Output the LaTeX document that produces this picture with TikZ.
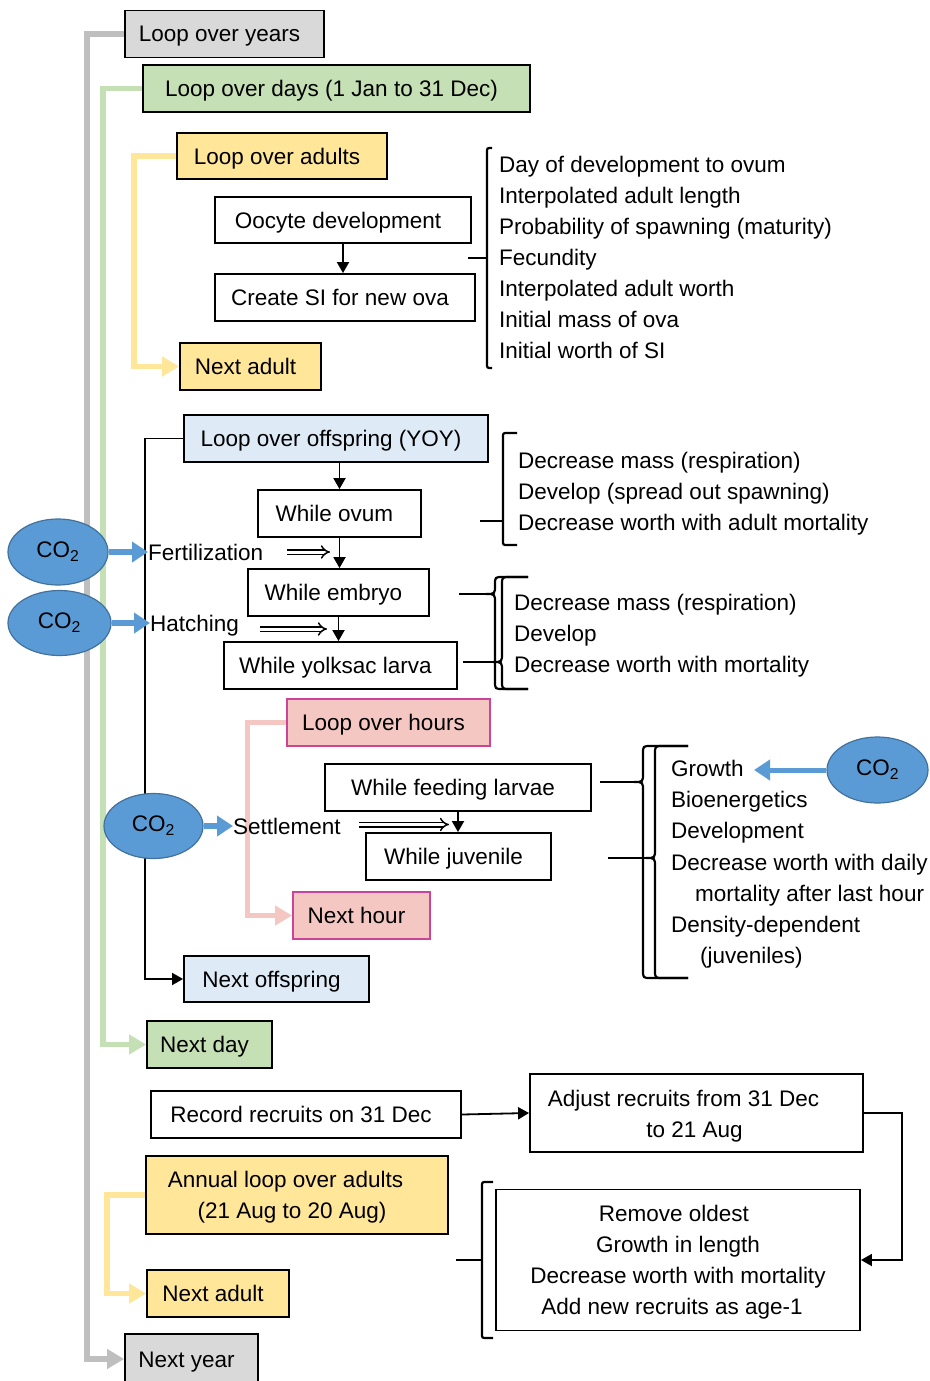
\documentclass[tikz,border=0pt]{standalone}
\usepackage{fontspec}
\setmainfont{Liberation Sans}
\usetikzlibrary{arrows.meta,shapes.geometric}
\definecolor{gfill}{HTML}{D9D9D9}
\definecolor{gline}{HTML}{BFBFBF}
\definecolor{grn}{HTML}{C5E0B4}
\definecolor{yel}{HTML}{FFE699}
\definecolor{lblue}{HTML}{DEEBF7}
\definecolor{pinkf}{HTML}{F4C7C3}
\definecolor{pinkb}{HTML}{CC4499}
\definecolor{co2f}{HTML}{5B9BD5}
\definecolor{co2b}{HTML}{41719C}
\newcommand\fishbrace[5]{\draw[bracepath] (#5,#2) -- ({#1+8},#2) .. controls (#1,#2) .. (#1,{#2+8}) -- (#1,{#4-9}) .. controls (#1,#4) .. ({#1-9},#4) .. controls (#1,#4) .. (#1,{#4+9}) -- (#1,{#3-8}) .. controls (#1,#3) .. ({#1+8},#3) -- (#5,#3);}
\begin{document}
\begin{tikzpicture}[x=1pt,y=-1pt,
  every node/.style={font=\fontsize{22.5}{31}\selectfont},
  box/.style={draw=black, line width=1.8pt, inner sep=0pt, text height=16pt, text depth=0pt, execute at end node={\hspace*{10pt}}},
  mbox/.style={draw=black, line width=1.8pt, inner sep=0pt, align=center},
  lbl/.style={inner sep=0pt, text height=16pt, text depth=0pt, anchor=west},
  loopline/.style={line width=5.5pt, -{Triangle[width=19pt,length=17pt]}},
  thinarrow/.style={line width=1.8pt, -{Triangle[width=12pt,length=11pt]}},
  bluearrow/.style={co2f, line width=6pt, -{Triangle[width=20pt,length=16pt]}},
  co2/.style={ellipse, draw=co2b, fill=co2f, line width=1.2pt, inner sep=0pt},
  dbl/.style={double=white, double distance=3pt, line width=1.5pt, -{Implies}},
  bracepath/.style={line width=2.2pt},
  sq/.style={line width=2.2pt, rounded corners=2pt},
  stub/.style={line width=2.2pt}
]
\fill[white] (0,0) rectangle (929,1381);
\useasboundingbox (0,0) rectangle (929,1381);

% boxes
\node[box, fill=gfill, minimum width=199pt, minimum height=47pt] (years) at (224.5,34) {Loop over years};
\node[box, fill=grn, minimum width=387pt, minimum height=47pt] (days) at (336.5,88.5) {Loop over days (1 Jan to 31 Dec)};
\node[box, fill=yel, minimum width=210pt, minimum height=46pt] (adults) at (282,156) {Loop over adults};
\node[box, minimum width=256pt, minimum height=46pt] (oocyte) at (343,220) {Oocyte development};
\node[box, minimum width=260pt, minimum height=47pt] (createsi) at (345,297.5) {Create SI for new ova};
\node[box, fill=yel, minimum width=141pt, minimum height=47pt] (nextadult) at (250.5,366.5) {Next adult};
\node[box, fill=lblue, minimum width=304pt, minimum height=47pt] (offspring) at (336,438.5) {Loop over offspring (YOY)};
\node[box, minimum width=163pt, minimum height=47pt] (ovum) at (339.5,513.5) {While ovum};
\node[box, minimum width=181pt, minimum height=47pt] (embryo) at (338.5,592.5) {While embryo};
\node[box, minimum width=233pt, minimum height=47pt] (yolk) at (340.5,665.5) {While yolksac larva};
\node[box, draw=pinkb, fill=pinkf, minimum width=203pt, minimum height=47pt] (hours) at (388.5,722.5) {Loop over hours};
\node[box, minimum width=266pt, minimum height=47pt] (feeding) at (458,787.5) {While feeding larvae};
\node[box, minimum width=185pt, minimum height=47pt] (juvenile) at (458.5,856.5) {While juvenile};
\node[box, draw=pinkb, fill=pinkf, minimum width=137pt, minimum height=47pt] (nexthour) at (361.5,915.5) {Next hour};
\node[box, fill=lblue, minimum width=185pt, minimum height=46pt] (nextoff) at (276.5,979) {Next offspring};
\node[box, fill=grn, minimum width=125pt, minimum height=47pt] (nextday) at (209.5,1044.5) {Next day};
\node[box, minimum width=310pt, minimum height=47pt] (record) at (306,1114.5) {Record recruits on 31 Dec};
\node[mbox, minimum width=333pt, minimum height=78pt] (adjust) at (696.5,1113) {\rule{0pt}{22pt}Adjust recruits from 31 Dec\hspace*{26pt}\\to 21 Aug\hspace*{4pt}};
\node[mbox, fill=yel, minimum width=302pt, minimum height=78pt] (annual) at (297,1195) {\rule{0pt}{20pt}Annual loop over adults\hspace*{23pt}\\(21 Aug to 20 Aug)\hspace*{10pt}};
\node[box, fill=yel, minimum width=142pt, minimum height=47pt] (nextadult2) at (218,1293.5) {Next adult};
\node[box, fill=gfill, minimum width=133pt, minimum height=50pt] (nextyear) at (191.5,1359) {Next year};
\node[mbox, minimum width=364pt, minimum height=141pt] (remove) at (678,1260) {\rule{0pt}{21pt}Remove oldest\hspace*{8pt}\\Growth in length\hspace*{15pt}\\Decrease worth with mortality\hspace*{25pt}\\Add new recruits as age-1\hspace*{12pt}};

% loop lines
\draw[loopline, gline] (years.west) -- ++(-37,0) |- (nextyear.west);
\draw[loopline, grn] (days.west) -- ++(-39,0) |- (nextday.west);
\draw[loopline, yel] (adults.west) -- ++(-42,0) |- (nextadult.west);
\draw[loopline, yel] (annual.west) -- ++(-38,0) |- (nextadult2.west);
\draw[loopline, pinkf] (hours.west) -- ++(-38.5,0) |- (nexthour.west);
\draw[thinarrow] (offspring.west) -- ++(-38,0) |- (nextoff.west);

% vertical flow arrows
\draw[thinarrow] (oocyte.south) -- (oocyte.south |- createsi.north);
\draw[thinarrow] (ovum.north |- offspring.south) -- (ovum.north);
\draw[thinarrow] (ovum.south) -- (ovum.south |- embryo.north);
\draw[thinarrow] (embryo.south) -- (embryo.south |- yolk.north);
\draw[thinarrow] (feeding.south) -- (feeding.south |- juvenile.north);
\draw[thinarrow] (record.east) -- (adjust.west);
\draw[thinarrow] (adjust.east) -- ++(38,0) |- (remove.east);

% CO2 ellipses
\node[co2, minimum width=100pt, minimum height=66pt] (c1) at (58,552) {CO\textsubscript{2}};
\node[co2, minimum width=103pt, minimum height=65pt] (c2) at (59.5,623) {CO\textsubscript{2}};
\node[co2, minimum width=99pt, minimum height=65pt] (c3) at (153.5,826) {CO\textsubscript{2}};
\node[co2, minimum width=101pt, minimum height=66pt] (c4) at (877.5,770) {CO\textsubscript{2}};

% labels
\node[lbl] (fert) at (148,552) {Fertilization};
\node[lbl] (hatch) at (150,623) {Hatching};
\node[lbl] (settle) at (233,826) {Settlement};
\draw[bluearrow] (c1.east) -- (fert.west);
\draw[bluearrow] (c2.east) -- (hatch.west);
\draw[bluearrow] (c3.east) -- (settle.west);
\coordinate (g0) at (754,770);
\draw[bluearrow, line width=5pt] (c4.west) -- (g0);

% double arrows
\coordinate (fa1) at (287,552); \coordinate (fa2) at (330,552);
\coordinate (ha1) at (260,629); \coordinate (ha2) at (327,629);
\coordinate (sa1) at (359,824.5); \coordinate (sa2) at (449,824.5);
\draw[dbl] (fa1) -- (fa2);
\draw[dbl] (ha1) -- (ha2);
\draw[dbl] (sa1) -- (sa2);

% list 1
\draw[sq] (492,148) -- (487,148) -- (487,368) -- (492,368);
\coordinate (b1s) at (468,258); \coordinate (b1m) at (487,258);
\draw[stub] (b1s) -- (b1m);
\foreach \t [count=\i] in {{Day of development to ovum},{Interpolated adult length},{Probability of spawning (maturity)},{Fecundity},{Interpolated adult worth},{Initial mass of ova},{Initial worth of SI}}
  \node[lbl] (la\i) at (499,{164+31*(\i-1)}) {\t};

% list 2
\draw[sq] (517,433) -- (503,433) -- (503,545) -- (517,545);
\coordinate (b2s) at (480,521); \coordinate (b2m) at (503,521);
\draw[stub] (b2s) -- (b2m);
\foreach \t [count=\i] in {{Decrease mass (respiration)},{Develop (spread out spawning)},{Decrease worth with adult mortality}}
  \node[lbl] (lb\i) at (518,{460+31*(\i-1)}) {\t};

% list 3
\fishbrace{495}{577}{689}{594}{528}
\fishbrace{502}{577}{689}{662}{528}
\coordinate (b3s) at (459,594); \coordinate (b3m) at (486,594);
\coordinate (b4s) at (463,662); \coordinate (b4m) at (493,662);
\draw[stub] (b3s) -- (b3m);
\draw[stub] (b4s) -- (b4m);
\foreach \t [count=\i] in {{Decrease mass (respiration)},{Develop},{Decrease worth with mortality}}
  \node[lbl] (lc\i) at (514,{602+31*(\i-1)}) {\t};

% list 4
\fishbrace{643}{746}{978}{782}{688}
\fishbrace{655}{746}{978}{858}{688}
\coordinate (b5s) at (600,782); \coordinate (b5m) at (634,782);
\coordinate (b6s) at (608,858); \coordinate (b6m) at (646,858);
\draw[stub] (b5s) -- (b5m);
\draw[stub] (b6s) -- (b6m);
\node[lbl] (ld1) at (671,768) {Growth};
\node[lbl] (ld2) at (671,799) {Bioenergetics};
\node[lbl] (ld3) at (671,830) {Development};
\node[lbl] (ld4) at (671,862) {Decrease worth with daily};
\node[lbl] (ld5) at (695,893) {mortality after last hour};
\node[lbl] (ld6) at (671,924) {Density-dependent};
\node[lbl] (ld7) at (700,955) {(juveniles)};

% bracket for remove box
\draw[sq] (493,1182) -- (482,1182) -- (482,1338) -- (493,1338);
\coordinate (b7s) at (456,1260); \coordinate (b7m) at (482,1260);
\draw[stub] (b7s) -- (b7m);
\end{tikzpicture}
\end{document}
